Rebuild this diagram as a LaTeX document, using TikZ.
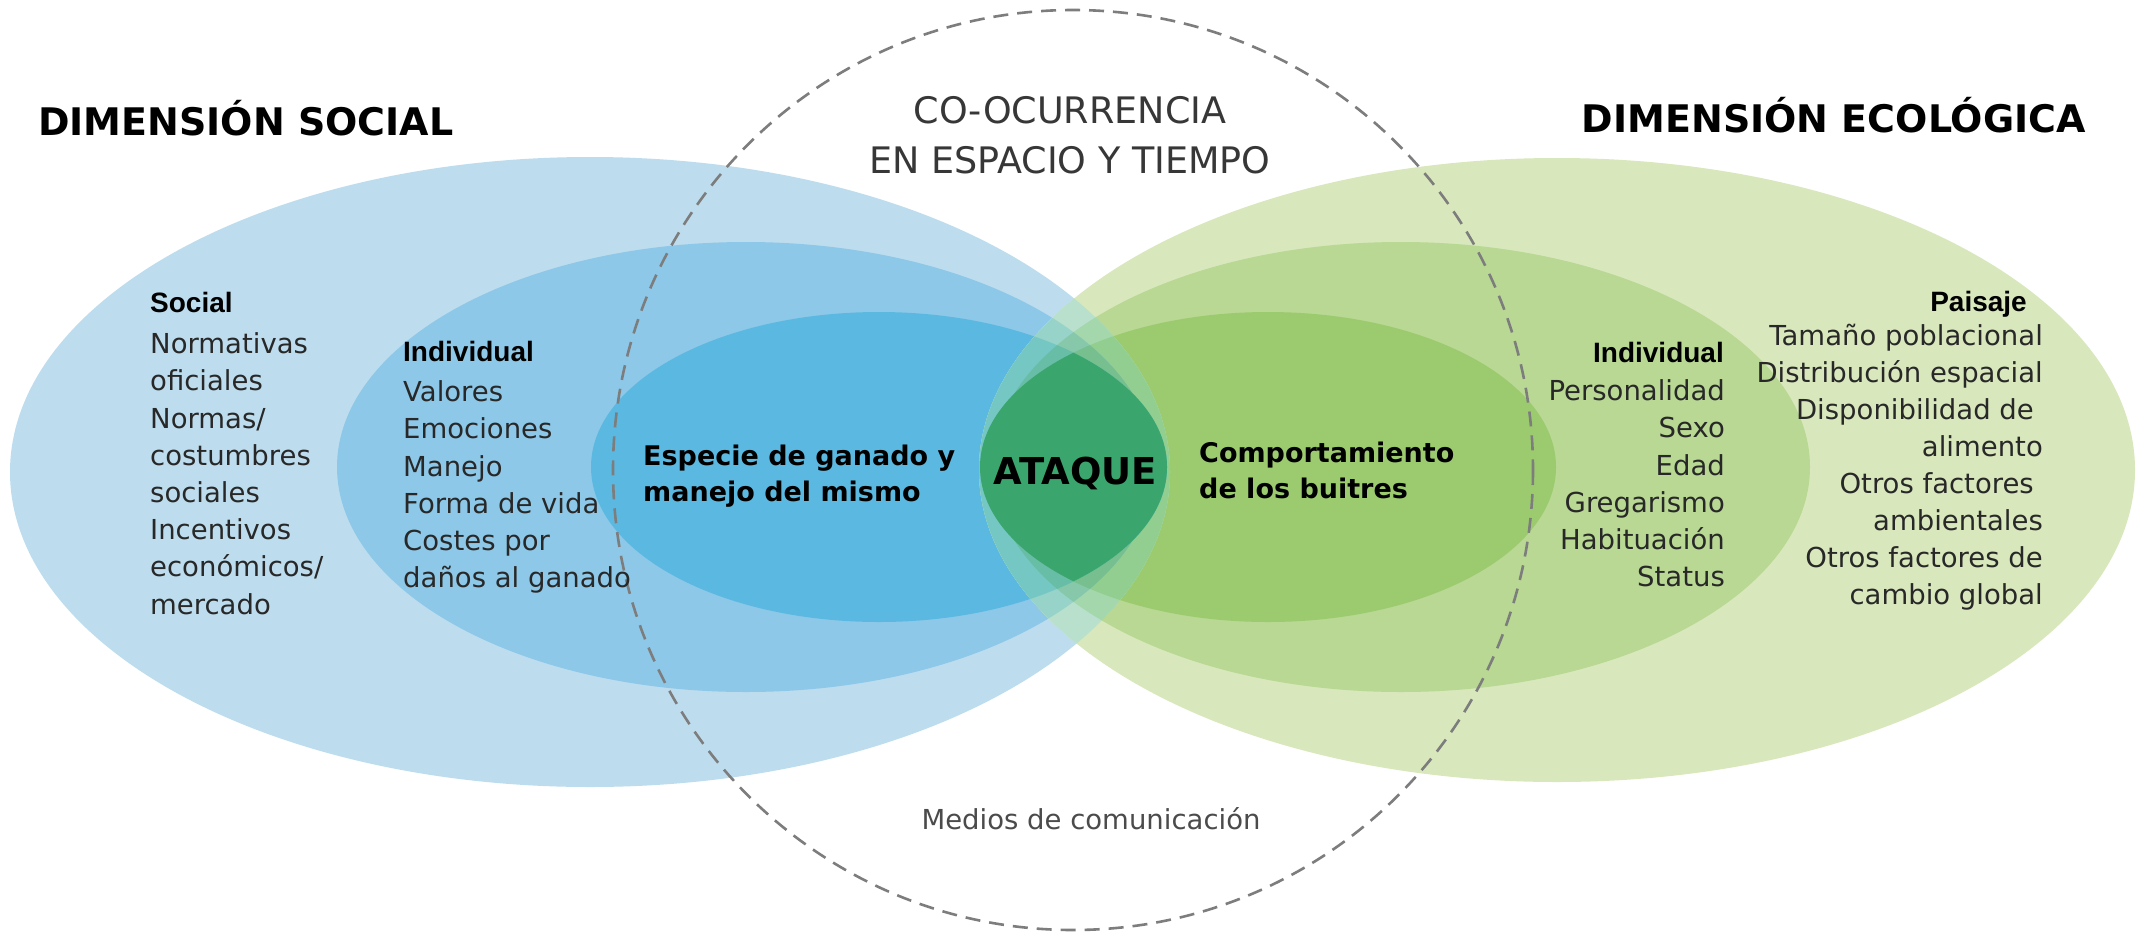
\documentclass[tikz,border=0pt]{standalone}
\usepackage{fontspec}
\setmainfont{DejaVu Sans}
\newfontfamily\hfont{Liberation Sans}
\definecolor{Bo}{RGB}{189,221,238}
\definecolor{Bm}{RGB}{141,200,232}
\definecolor{Bi}{RGB}{91,185,225}
\definecolor{Go}{RGB}{216,232,188}
\definecolor{Gm}{RGB}{184,216,147}
\definecolor{Gi}{RGB}{156,203,111}
\definecolor{BoGo}{RGB}{184,224,204}
\definecolor{BoGm}{RGB}{164,215,172}
\definecolor{BoGi}{RGB}{147,206,145}
\definecolor{BmGo}{RGB}{151,211,200}
\definecolor{BmGm}{RGB}{134,200,169}
\definecolor{BmGi}{RGB}{119,191,142}
\definecolor{BiGo}{RGB}{117,199,195}
\definecolor{BiGm}{RGB}{103,189,165}
\definecolor{BiGi}{RGB}{58,166,109}
\definecolor{txt}{RGB}{40,40,40}
\definecolor{dashgray}{RGB}{125,125,125}
\begin{document}
\begin{tikzpicture}[x=1pt,y=-1pt,
  EBo/.style={insert path={(590,472) ellipse [x radius=580, y radius=315]}},
  EBm/.style={insert path={(746,467) ellipse [x radius=409, y radius=225]}},
  EBi/.style={insert path={(879,467) ellipse [x radius=288, y radius=155]}},
  EGo/.style={insert path={(1557,470) ellipse [x radius=578, y radius=312]}},
  EGm/.style={insert path={(1401,467) ellipse [x radius=409, y radius=225]}},
  EGi/.style={insert path={(1268,467) ellipse [x radius=288, y radius=155]}},
  body/.style={font=\fontsize{27.5}{33}\selectfont, text=txt, inner sep=0pt},
  head/.style={font=\hfont\bfseries\fontsize{28}{33}\selectfont, text=black, inner sep=0pt},
  dimtitle/.style={font=\bfseries\fontsize{38}{44}\selectfont, text=black, inner sep=0pt},
  coretext/.style={font=\bfseries\fontsize{27}{33}\selectfont, text=black, inner sep=0pt},
  cooc/.style={font=\fontsize{36.5}{44}\selectfont, text={rgb,255:red,55;green,55;blue,55}, inner sep=0pt},
  dashc/.style={draw=dashgray, line width=2.6pt, dash pattern=on 15pt off 9pt}
]
\useasboundingbox (0,0) rectangle (2136,935);
\fill[white] (0,0) rectangle (2136,935);
% blue ellipses
\fill[Bo, EBo];
\fill[Bm, EBm];
\fill[Bi, EBi];
% green ellipses
\fill[Go, EGo];
\fill[Gm, EGm];
\fill[Gi, EGi];
% overlaps
\begin{scope}\clip[EBo];
  \fill[BoGo, EGo]; \fill[BoGm, EGm]; \fill[BoGi, EGi];
\end{scope}
\begin{scope}\clip[EBm];
  \fill[BmGo, EGo]; \fill[BmGm, EGm]; \fill[BmGi, EGi];
\end{scope}
\begin{scope}\clip[EBi];
  \fill[BiGo, EGo]; \fill[BiGm, EGm]; \fill[BiGi, EGi];
\end{scope}
% dashed circle
\draw[dashc] (1073,470) circle [radius=460];

% titles
\node[dimtitle, anchor=mid west] (dsoc) at (38,133) {DIMENSIÓN SOCIAL};
\node[dimtitle, anchor=mid east] (deco) at (2086,130) {DIMENSIÓN ECOLÓGICA};
\node[cooc, anchor=mid] (co1) at (1070,121) {CO-OCURRENCIA};
\node[cooc, anchor=mid] (co2) at (1070,171) {EN ESPACIO Y TIEMPO};

% social
\node[head, anchor=mid west] (soch) at (150,310) {Social};
\foreach \t [count=\i] in {Normativas, oficiales, Normas/, costumbres, sociales, Incentivos, económicos/, mercado}
  \node[body, anchor=mid west] (soc\i) at (150,{351+37.2*(\i-1)}) {\t};

% individual left
\node[head, anchor=mid west] (indlh) at (403,359) {Individual};
\foreach \t [count=\i] in {Valores, Emociones, Manejo, Forma de vida, Costes por, daños al ganado}
  \node[body, anchor=mid west] (indl\i) at (403,{399+37.2*(\i-1)}) {\t};

% core texts
\node[coretext, anchor=mid west] (esp1) at (643,463) {Especie de ganado y};
\node[coretext, anchor=mid west] (esp2) at (643,499) {manejo del mismo};
\node[font=\bfseries\fontsize{37}{44}\selectfont, text=black, inner sep=0pt, anchor=mid] (ataque) at (1075,482) {ATAQUE};
\node[coretext, anchor=mid west] (comp1) at (1199,460) {Comportamiento};
\node[coretext, anchor=mid west] (comp2) at (1199,496) {de los buitres};

% individual right
\node[head, anchor=mid east] (indrh) at (1724,360) {Individual};
\foreach \t [count=\i] in {Personalidad, Sexo, Edad, Gregarismo, Habituación, Status}
  \node[body, anchor=mid east] (indr\i) at (1725,{398+37.2*(\i-1)}) {\t};

% paisaje
\node[head, anchor=mid east] (paih) at (2027,309) {Paisaje};
\node[body, anchor=mid east] (pai1) at (2043,343) {Tamaño poblacional};
\node[body, anchor=mid east] (pai2) at (2043,380) {Distribución espacial};
\node[body, anchor=mid east] (pai3) at (2034,417) {Disponibilidad de};
\node[body, anchor=mid east] (pai4) at (2043,454) {alimento};
\node[body, anchor=mid east] (pai5) at (2034,491) {Otros factores};
\node[body, anchor=mid east] (pai6) at (2043,528) {ambientales};
\node[body, anchor=mid east] (pai7) at (2043,565) {Otros factores de};
\node[body, anchor=mid east] (pai8) at (2043,602) {cambio global};

% media
\node[body, text={rgb,255:red,75;green,75;blue,75}, anchor=mid] (medios) at (1091,827) {Medios de comunicación};
\end{tikzpicture}
\end{document}
